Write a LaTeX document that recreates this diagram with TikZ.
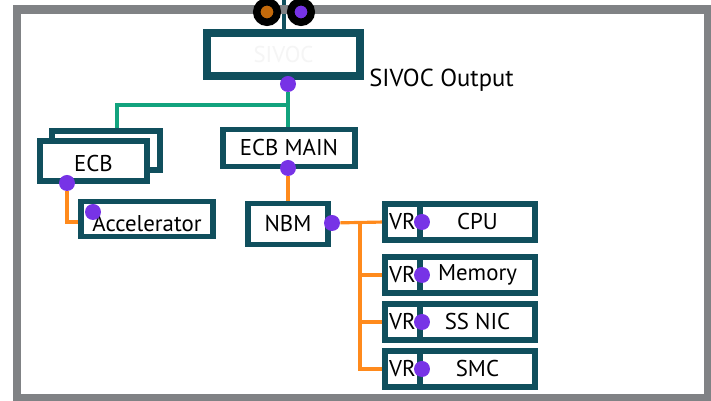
\documentclass[tikz,border=0pt]{standalone}
\usepackage{fontspec}
\setmainfont{PT Sans}
\usetikzlibrary{positioning, backgrounds}
\definecolor{framegray}{HTML}{808285}
\definecolor{boxteal}{HTML}{104F5D}
\definecolor{busgreen}{HTML}{12A37E}
\definecolor{railorange}{HTML}{FF8A1C}
\definecolor{pinpurple}{HTML}{7733E6}
\definecolor{plugorange}{HTML}{C56A0B}
\tikzset{
  box/.style={rectangle,draw=boxteal,fill=white,line width=3pt,outer sep=0pt,inner sep=0pt,align=center,font=\fontsize{13}{15}\selectfont},
  vrbox/.style={box,minimum width=0.70cm},
  pindot/.style={circle,fill=pinpurple,inner sep=0pt,minimum size=0.32cm},
  plug/.style={circle,draw=black,line width=0.15cm,inner sep=0pt,minimum size=0.41cm},
  greenbus/.style={draw=busgreen,line width=2.2pt},
  rail/.style={draw=railorange,line width=1.8pt}
}

\begin{document}
\begin{tikzpicture}[x=0.02cm,y=-0.02cm]
\useasboundingbox (0,0) rectangle (711,401);
\draw[framegray,line width=0.17cm] (17,9.5) rectangle (708,398);

\node[box,line width=4.5pt,minimum width=3.06cm,minimum height=0.86cm,text=gray!8] (sivoc) at (283.5,54.5) {SIVOC};
\node[font=\fontsize{14}{16}\selectfont,anchor=base west,inner sep=0pt] (outlabel) at (369,87) {SIVOC Output};
\node[box,minimum width=2.16cm,minimum height=0.78cm] (ecbback) at (106,150.5) {};
\node[box,minimum width=2.14cm,minimum height=0.80cm,text height=12.5pt,text depth=0pt] (ecb) at (93.5,161) {ECB};
\node[box,minimum width=2.64cm,minimum height=0.70cm,text height=14pt,text depth=0pt] (acc) at (147,219) {Accelerator};
\node[box,minimum width=2.64cm,minimum height=0.74cm] (ecbmain) at (289,148) {ECB MAIN};
\node[box,minimum width=1.60cm,minimum height=0.82cm] (nbm) at (288,224) {NBM};
\foreach \n/\y/\t in {cpu/222/CPU, mem/275/Memory, nic/322/SS NIC, smc/369/SMC} {
  \node[vrbox,minimum height=0.72cm] (vr-\n) at (402.5,\y) {VR};
  \node[box,minimum width=2.30cm,minimum height=0.72cm,right=0pt of vr-\n] (\n) {\t};
}

\node[plug,fill=plugorange] (plugA) at (267,12) {};
\node[plug,fill=pinpurple] (plugB) at (301,12) {};
\coordinate (feed) at (284,0);

\node[pindot] (sivocpin) at (288,84) {};
\node[pindot] (ecbpin) at (67,183) {};
\node[pindot] (accpin) at (93,212) {};
\node[pindot] (mainpin) at (288,168) {};
\node[pindot] (nbmpin) at (332,223) {};
\foreach \n in {cpu,mem,nic,smc}
  \node[pindot,xshift=0.04cm] (\n pin) at (vr-\n.east) {};

\begin{scope}[on background layer]
\draw[boxteal,line width=1.8pt] (feed) -- (feed |- sivoc.north);
\coordinate (split) at (288,105);
\draw[greenbus] (sivocpin) -- (sivocpin |- ecbmain.north);
\draw[greenbus] (split) -| ([xshift=0.22cm]ecbback.north);
\draw[rail] (ecbpin) |- ([yshift=-0.06cm]acc.west);
\draw[rail] (mainpin) -- (nbm.north);
\draw[rail] (nbmpin) -- (vr-cpu.west);
\coordinate (tap) at (360,223);
\draw[rail] (tap) |- (vr-smc.west);
\foreach \n in {mem,nic}
  \draw[rail] (tap |- vr-\n.west) -- (vr-\n.west);
\end{scope}
\end{tikzpicture}
\end{document}
